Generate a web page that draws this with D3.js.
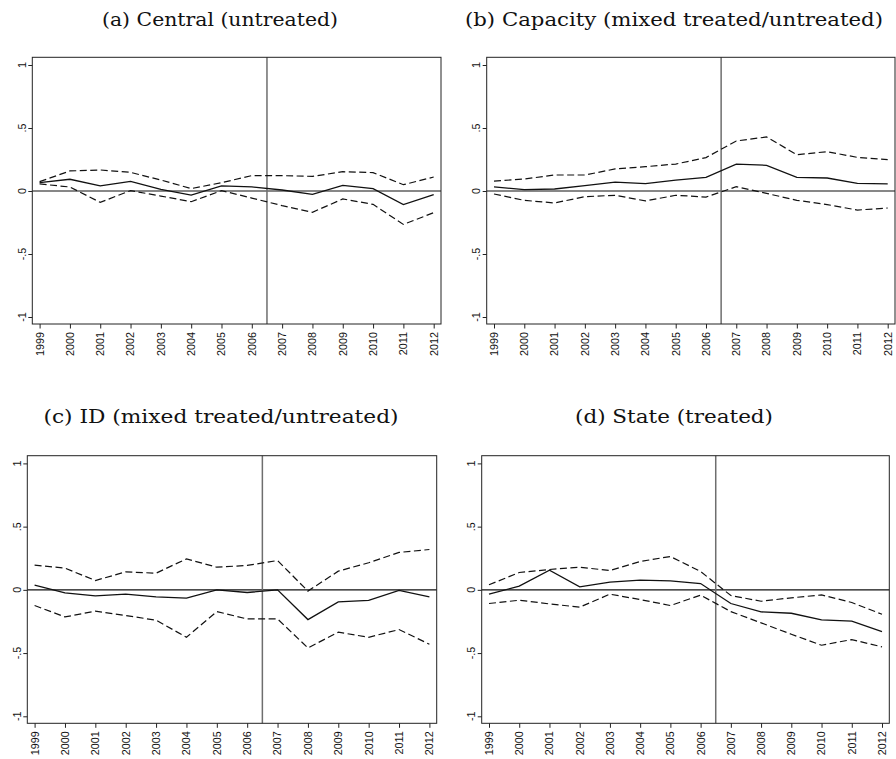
<!DOCTYPE html>
<html>
<head>
<meta charset="utf-8">
<script src="https://cdn.jsdelivr.net/npm/d3@7"></script>
<style>
  body { margin: 0; background: #fff; }
  svg { display: block; }
  .title { font-family: "DejaVu Serif", "Liberation Serif", serif; font-size: 18.5px; fill: #111; }
  .tick-label { font-family: "Liberation Sans", Arial, sans-serif; font-size: 10.8px; fill: #111; }
</style>
</head>
<body>
<svg id="chart" width="896" height="759"></svg>
<script>
// data
let years = [1999, 2000, 2001, 2002, 2003, 2004, 2005, 2006, 2007, 2008, 2009, 2010, 2011, 2012]
let yTicks = [-1, -0.5, 0, 0.5, 1]
let yTickLabels = ["-1", "-.5", "0", ".5", "1"]
let treatmentYear = 2006.5

let centralEst = [0.066, 0.093, 0.040, 0.077, 0.013, -0.032, 0.040, 0.032, 0.008, -0.026, 0.045, 0.019, -0.108, -0.029]
let centralHi = [0.074, 0.159, 0.167, 0.148, 0.087, 0.019, 0.066, 0.122, 0.122, 0.116, 0.153, 0.146, 0.050, 0.111]
let centralLo = [0.056, 0.032, -0.090, 0.003, -0.040, -0.085, 0.003, -0.056, -0.116, -0.169, -0.063, -0.106, -0.265, -0.172]

let capacityEst = [0.032, 0.011, 0.016, 0.042, 0.071, 0.058, 0.087, 0.108, 0.214, 0.204, 0.108, 0.103, 0.061, 0.056]
let capacityHi = [0.079, 0.095, 0.127, 0.127, 0.175, 0.193, 0.214, 0.265, 0.397, 0.429, 0.288, 0.312, 0.267, 0.249]
let capacityLo = [-0.024, -0.074, -0.095, -0.045, -0.034, -0.079, -0.034, -0.048, 0.034, -0.019, -0.074, -0.108, -0.151, -0.135]

let idEst = [0.037, -0.024, -0.047, -0.034, -0.055, -0.066, 0.000, -0.021, 0.000, -0.235, -0.095, -0.084, -0.005, -0.055]
let idHi = [0.195, 0.172, 0.074, 0.142, 0.132, 0.245, 0.179, 0.193, 0.232, -0.010, 0.148, 0.214, 0.296, 0.319]
let idLo = [-0.124, -0.214, -0.169, -0.203, -0.240, -0.375, -0.172, -0.230, -0.230, -0.459, -0.335, -0.375, -0.314, -0.430]

let stateEst = [-0.034, 0.029, 0.156, 0.024, 0.061, 0.077, 0.071, 0.050, -0.108, -0.174, -0.185, -0.237, -0.248, -0.330]
let stateHi = [0.040, 0.137, 0.161, 0.179, 0.153, 0.224, 0.264, 0.145, -0.045, -0.090, -0.063, -0.040, -0.100, -0.193]
let stateLo = [-0.108, -0.082, -0.111, -0.137, -0.034, -0.077, -0.124, -0.042, -0.172, -0.261, -0.351, -0.438, -0.393, -0.451]

let titles = ["(a) Central (untreated)", "(b) Capacity (mixed treated/untreated)",
    "(c) ID (mixed treated/untreated)", "(d) State (treated)"]

// panel frames (layout only)
let panels = [
    { title: titles[0], est: centralEst, hi: centralHi, lo: centralLo, left: 32.3, right: 441, top: 57.3, bottom: 324, titleX: 220, titleY: 26, titleW: 236 },
    { title: titles[1], est: capacityEst, hi: capacityHi, lo: capacityLo, left: 486.7, right: 895, top: 57.3, bottom: 324, titleX: 674, titleY: 26, titleW: 418 },
    { title: titles[2], est: idEst, hi: idHi, lo: idLo, left: 27.3, right: 436.7, top: 455.7, bottom: 723.3, titleX: 221, titleY: 423, titleW: 355 },
    { title: titles[3], est: stateEst, hi: stateHi, lo: stateLo, left: 481.7, right: 889.3, top: 455.7, bottom: 723.3, titleX: 674, titleY: 423, titleW: 198 }
]

// d3.attrs shim (selection-multi is not loaded)
d3.selection.prototype.attrs = function (m) {
    for (let k in m) this.attr(k, m[k])
    return this
}

let svg = d3.select("#chart")

function drawPanel(p) {
    let g = svg.append("g")
    let pad = 7.3
    let x = d3.scaleLinear().domain([1999, 2012]).range([p.left + pad, p.right - pad])
    let y = d3.scaleLinear().domain([-1, 1]).range([p.bottom - 7, p.top + 7.7])

    g.append("text")
        .attrs({
            "class": "title",
            "x": p.titleX,
            "y": p.titleY,
            "text-anchor": "middle",
            "textLength": p.titleW,
            "lengthAdjust": "spacingAndGlyphs"
        })
        .text(p.title)

    // reference lines
    g.append("line")
        .attrs({ x1: p.left, x2: p.right, y1: y(0), y2: y(0), stroke: "#111", "stroke-width": 1.2 })
    g.append("line")
        .attrs({ x1: x(treatmentYear), x2: x(treatmentYear), y1: p.top, y2: p.bottom, stroke: "#6e6e6e", "stroke-width": 1.5 })

    let line = d3.line()
        .x(function (d, i) { return x(years[i]) })
        .y(function (d) { return y(d) })

    g.append("path").datum(p.hi)
        .attrs({ d: line, fill: "none", stroke: "#111", "stroke-width": 1.2, "stroke-dasharray": "7,3.5" })
    g.append("path").datum(p.lo)
        .attrs({ d: line, fill: "none", stroke: "#111", "stroke-width": 1.2, "stroke-dasharray": "7,3.5" })
    g.append("path").datum(p.est)
        .attrs({ d: line, fill: "none", stroke: "#111", "stroke-width": 1.3 })

    // frame
    g.append("rect")
        .attrs({ x: p.left, y: p.top, width: p.right - p.left, height: p.bottom - p.top, fill: "none", stroke: "#222", "stroke-width": 1 })

    // y axis
    let yAxis = d3.axisLeft(y).tickValues(yTicks).tickSize(4).tickFormat("")
    g.append("g").attr("transform", "translate(" + p.left + ",0)").call(yAxis)
        .call(a => a.select(".domain").remove())
    g.selectAll(".ylab").data(yTicks).enter().append("text")
        .attr("class", "tick-label")
        .attr("text-anchor", "middle")
        .attr("transform", function (d) { return "translate(" + (p.left - 6.5) + "," + y(d) + ") rotate(-90)" })
        .text(function (d, i) { return yTickLabels[i] })

    // x axis
    let xAxis = d3.axisBottom(x).tickValues(years).tickSize(4.5).tickFormat("")
    g.append("g").attr("transform", "translate(0," + p.bottom + ")").call(xAxis)
        .call(a => a.select(".domain").remove())
    g.selectAll(".xlab").data(years).enter().append("text")
        .attr("class", "tick-label")
        .attr("text-anchor", "end")
        .attr("transform", function (d) { return "translate(" + (x(d) + 3.9) + "," + (p.bottom + 8) + ") rotate(-90)" })
        .text(function (d) { return d })

    g.selectAll(".tick line").attr("stroke", "#222")
}

panels.forEach(drawPanel)
</script>
</body>
</html>
